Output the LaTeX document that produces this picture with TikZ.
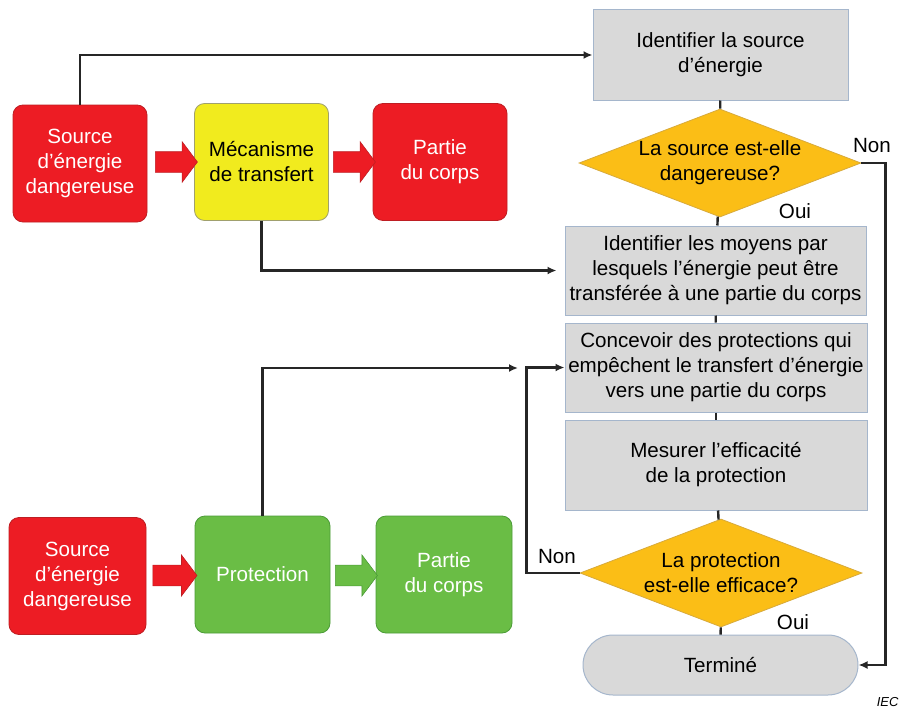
\documentclass[tikz,border=0pt]{standalone}
\usepackage{fontspec}
\setmainfont{Liberation Sans}
\usetikzlibrary{shapes.geometric, shapes.arrows, arrows.meta, positioning}
\definecolor{hzred}{RGB}{237,28,36}
\definecolor{hzredline}{RGB}{190,30,35}
\definecolor{mechyellow}{RGB}{241,235,30}
\definecolor{mechline}{RGB}{160,160,110}
\definecolor{protgreen}{RGB}{106,189,69}
\definecolor{protline}{RGB}{75,155,55}
\definecolor{stepgray}{RGB}{217,217,217}
\definecolor{stepline}{RGB}{165,182,204}
\definecolor{askorange}{RGB}{251,190,22}
\definecolor{askline}{RGB}{215,170,60}

\begin{document}
\begin{tikzpicture}[x=1pt, y=-1pt,
  every node/.style={font=\fontsize{20.6}{25}\selectfont, align=center},
  block/.style={rectangle, rounded corners=10pt, minimum width=134pt, minimum height=117pt, inner sep=0pt, line width=0.8pt},
  hazard/.style={block, fill=hzred, draw=hzredline, text=white},
  transfer/.style={block, fill=mechyellow, draw=mechline},
  guard/.style={block, fill=protgreen, draw=protline, text=white},
  stepbox/.style={rectangle, fill=stepgray, draw=stepline, line width=1pt, inner sep=0pt, minimum width=302pt, minimum height=89pt},
  decision/.style={diamond, fill=askorange, draw=askline, line width=0.8pt, aspect=2.6, inner sep=-8pt, minimum width=282pt, minimum height=108pt},
  fatarrow/.style={single arrow, minimum width=40pt, minimum height=42pt, single arrow head extend=10pt, single arrow tip angle=106, inner xsep=0pt, inner ysep=10pt, line width=0.6pt},
  conn/.style={line width=2.4pt, draw=black!85, -{Latex[length=9pt,width=8pt]}},
  link/.style={line width=2.4pt, draw=black!85}]
\useasboundingbox (0,0) rectangle (902,709);

% top chain
\node[hazard] (src1) at (80,163.5) {Source\\d’énergie\\dangereuse};
\node[transfer] (mech) at (261.5,162) {Mécanisme\\de transfert};
\node[hazard] (part1) at (440,162) {Partie\\du corps};
\node[fatarrow, fill=hzred, draw=hzredline] (fa1) at (172.5,162) {};
\node[fatarrow, fill=hzred, draw=hzredline] (fa2) at (350.5,162) {};

% bottom chain
\node[hazard, minimum width=137pt] (src2) at (77.5,576) {Source\\d’énergie\\dangereuse};
\node[guard, minimum width=135pt] (prot) at (262.5,574.5) {Protection};
\node[guard, minimum width=136pt] (part2) at (444,574.5) {Partie\\du corps};
\node[fatarrow, fill=hzred, draw=hzredline, minimum height=44pt, minimum width=41pt] (fa3) at (171,575.5) {};
\node[fatarrow, fill=protgreen, draw=protline, minimum width=41pt] (fa4) at (352.5,575.5) {};

% flow chart
\node[stepbox, minimum width=255pt, minimum height=90pt] (ident) at (720.5,55) {Identifier la source\\d’énergie};
\node[decision] (dang) at (720,163) {La source est-elle\\dangereuse?};
\node[stepbox, minimum width=301pt] (moyens) at (715.5,270.5) {Identifier les moyens par\\lesquels l’énergie peut être\\transférée à une partie du corps};
\node[stepbox] (concev) at (716,367.5) {Concevoir des protections qui\\empêchent le transfert d’énergie\\vers une partie du corps};
\node[stepbox, minimum height=90pt] (mesure) at (716,465) {Mesurer l’efficacité\\de la protection};
\node[decision] (eff) at (721,573) {La protection\\est-elle efficace?};
\node[rectangle, rounded corners=30pt, fill=stepgray, draw=stepline, line width=1pt, minimum width=275pt, minimum height=60pt] (fin) at (720.5,665) {Terminé};

\draw[link] (ident) -- (dang);
\draw[link] (dang) -- (moyens);
\draw[link] (moyens) -- (concev);
\draw[link] (concev) -- (mesure);
\draw[link] (mesure) -- (eff);
\draw[link] (eff) -- (fin);

\draw[conn] (src1.north) |- (ident.west);
\draw[conn, shorten >=8pt] (mech.south) |- (moyens.west);
\coordinate (protin) at (518,368);
\draw[conn] (prot.north) |- (protin);
\draw[conn] (eff.west) -- ++(-53,0) |- (concev.west);
\draw[conn] (dang.east) -- ++(24,0) |- (fin.east);

\node (non1) at (872,146) {Non};
\node (oui1) at (795,211) {Oui};
\node (non2) at (557,557) {Non};
\node (oui2) at (793,622) {Oui};
\node[font=\fontsize{13}{15}\selectfont\itshape, anchor=east] (iec) at (902,702) {IEC};
\end{tikzpicture}
\end{document}
